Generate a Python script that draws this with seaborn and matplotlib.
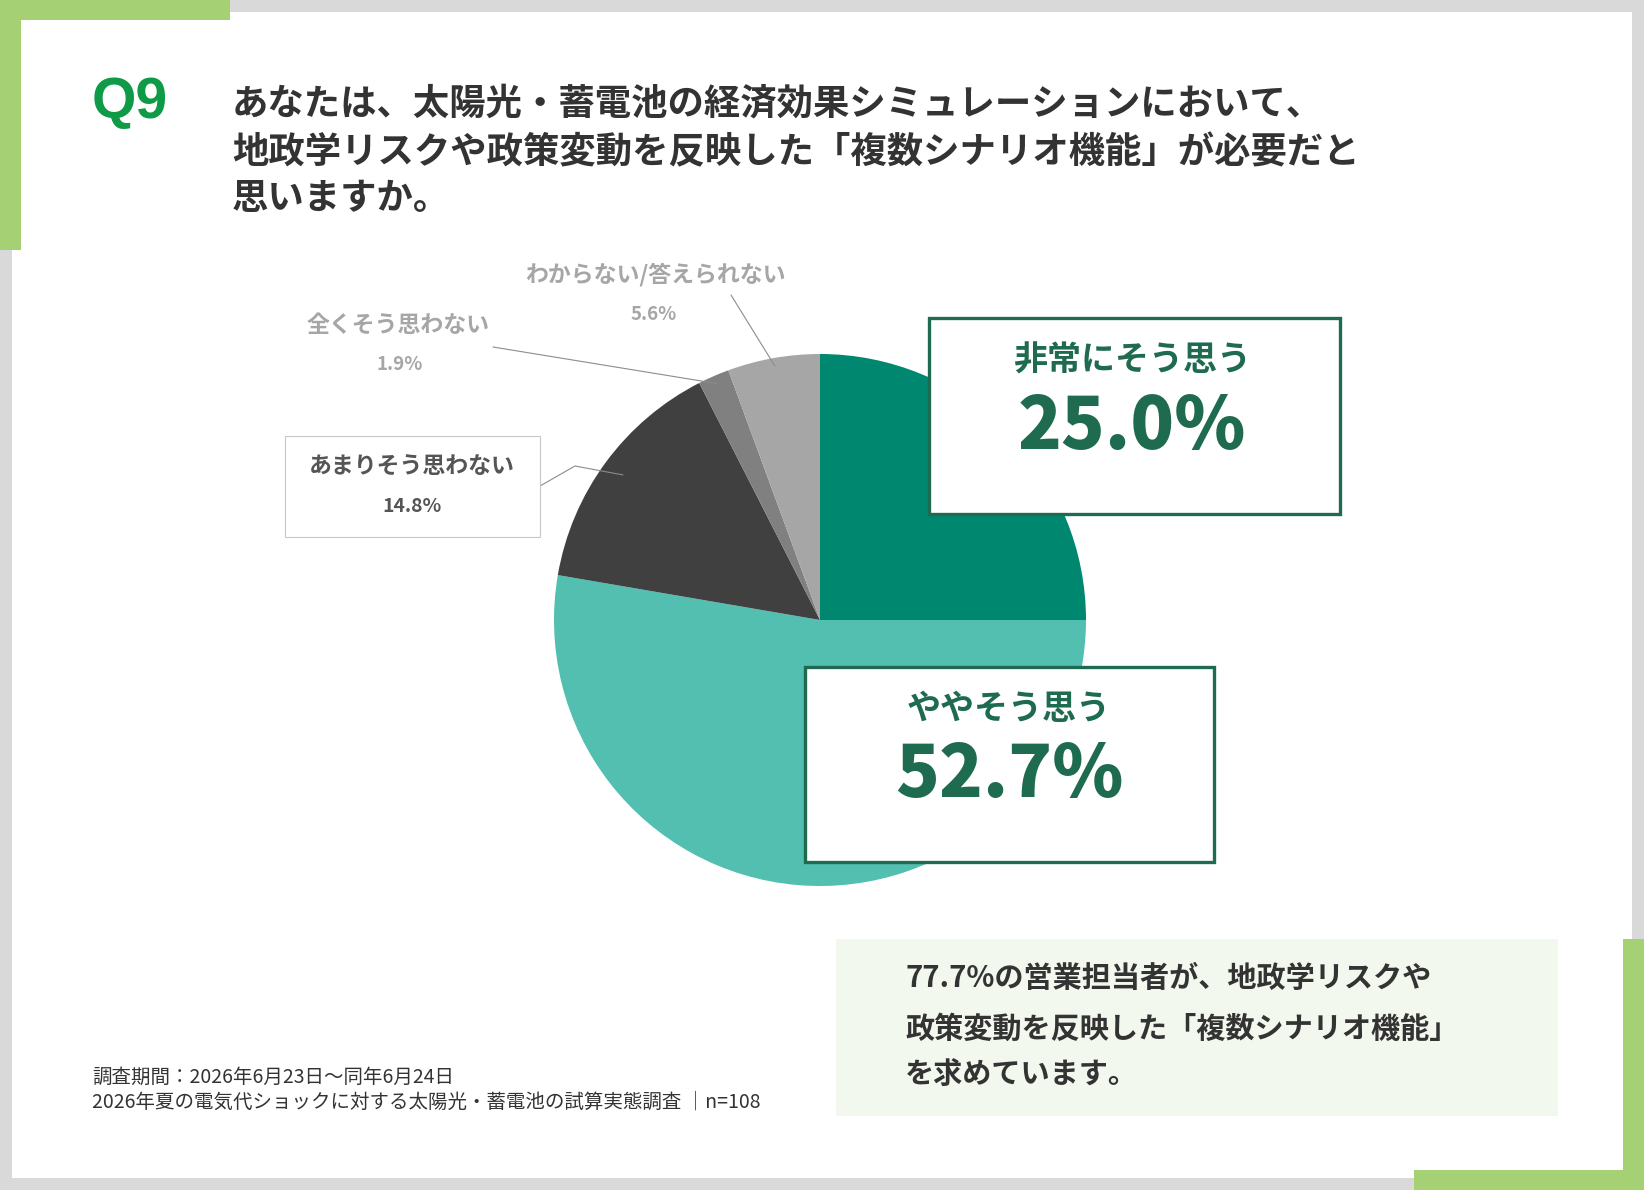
import numpy as np
import pandas as pd
import matplotlib
matplotlib.use("Agg")
import matplotlib.pyplot as plt
from matplotlib.patches import Rectangle
import seaborn as sns

# ---------------- data ----------------
categories = ["非常にそう思う", "ややそう思う", "あまりそう思わない", "全くそう思わない", "わからない/答えられない"]
values = [25.0, 52.7, 14.8, 1.9, 5.6]
slice_colors = ["#00876F", "#52BFB0", "#404040", "#808080", "#A6A6A6"]

title_q = "Q9"
title_lines = [
    "あなたは、太陽光・蓄電池の経済効果シミュレーションにおいて、",
    "地政学リスクや政策変動を反映した「複数シナリオ機能」が必要だと",
    "思いますか。",
]
summary_lines = [
    "77.7%の営業担当者が、地政学リスクや",
    "政策変動を反映した「複数シナリオ機能」",
    "を求めています。",
]
footer_lines = [
    "調査期間：2026年6月23日～同年6月24日",
    "2026年夏の電気代ショックに対する太陽光・蓄電池の試算実態調査 │n=108",
]

df = pd.DataFrame({"category": categories, "value": values, "color": slice_colors})

# ---------------- style ----------------
sns.set_theme(style="white")
plt.rcParams["font.family"] = ["Noto Sans CJK JP", "DejaVu Sans"]

W, H = 1644, 1190
fig = plt.figure(figsize=(W / 100, H / 100), dpi=100)
fig.patch.set_facecolor("white")

bg = fig.add_axes([0, 0, 1, 1])
bg.set_xlim(0, W)
bg.set_ylim(H, 0)
bg.axis("off")

GRAY = "#D9D9D9"
GREEN = "#A5D174"
# frame
for (x, y, w, h, c) in [
    (0, 0, W, 12, GRAY), (0, 0, 12, H, GRAY), (W - 12, 0, 12, H, GRAY), (0, H - 12, W, 12, GRAY),
    (0, 0, 230, 20, GREEN), (0, 0, 21, 250, GREEN),
    (W - 21, 939, 21, H - 939, GREEN), (1414, H - 20, W - 1414, 20, GREEN),
]:
    bg.add_patch(Rectangle((x, y), w, h, facecolor=c, edgecolor="none"))
bg.add_patch(Rectangle((836, 939), 722, 177, facecolor="#F3F8EE", edgecolor="none"))

# ---------------- pie ----------------
cx, cy, r = 820, 620, 266
pax = fig.add_axes([(cx - r) / W, 1 - (cy + r) / H, 2 * r / W, 2 * r / H])
wedges, _ = pax.pie(df["value"], colors=df["color"], startangle=90, counterclock=False,
                    wedgeprops=dict(linewidth=0))
pax.set_xlim(-1, 1)
pax.set_ylim(-1, 1)
pax.axis("off")

fg = fig.add_axes([0, 0, 1, 1])
fg.set_xlim(0, W)
fg.set_ylim(H, 0)
fg.axis("off")
fg.patch.set_alpha(0)

def wedge_point(i, rad):
    w = wedges[i]
    th = np.deg2rad((w.theta1 + w.theta2) / 2)
    disp = pax.transData.transform((rad * np.cos(th), rad * np.sin(th)))
    return fg.transData.inverted().transform(disp)

# ---------------- title ----------------
fg.text(92, 103, title_q, fontsize=41, fontweight="bold", color="#0E9A47",
        family=["Liberation Sans", "DejaVu Sans"], va="center", ha="left")
for i, (line, yy) in enumerate(zip(title_lines, [104, 153, 199])):
    fg.text(232, yy, line, fontsize=26.2, fontweight="bold", color="#333333", va="center", ha="left")

# ---------------- big boxes ----------------
DG = "#1E6B4F"
BIGFONT = ["Noto Sans CJK JP", "DejaVu Sans"]
fg.add_patch(Rectangle((929, 318), 411, 196, facecolor="white", edgecolor=DG, linewidth=2.4, zorder=3))
fg.text(1132, 360, categories[0], fontsize=24.5, fontweight="bold", color=DG, ha="center", va="center", zorder=4)
fg.text(1132, 428, f"{values[0]:.1f}%", fontsize=52, fontweight="heavy", color=DG, ha="center", va="center",
        family=BIGFONT, zorder=4)

fg.add_patch(Rectangle((805, 667), 409, 195, facecolor="white", edgecolor=DG, linewidth=2.4, zorder=3))
fg.text(1009, 709, categories[1], fontsize=24.5, fontweight="bold", color=DG, ha="center", va="center", zorder=4)
fg.text(1009, 776, f"{values[1]:.1f}%", fontsize=52, fontweight="heavy", color=DG, ha="center", va="center",
        family=BIGFONT, zorder=4)

# ---------------- small labels ----------------
fg.add_patch(Rectangle((285, 436), 255, 101, facecolor="white", edgecolor="#C8C8C8", linewidth=0.8, zorder=3))
fg.text(412, 467, categories[2], fontsize=16.5, fontweight="bold", color="#555555", ha="center", va="center", zorder=4)
fg.text(412, 507, f"{values[2]:.1f}%", fontsize=14, fontweight="bold", color="#555555", ha="center", va="center", zorder=4)

LG = "#A6A6A6"
fg.text(398, 325, categories[3], fontsize=16.5, fontweight="bold", color=LG, ha="center", va="center")
fg.text(400, 365, f"{values[3]:.1f}%", fontsize=13.5, fontweight="bold", color=LG, ha="center", va="center")
fg.text(655, 275, categories[4], fontsize=16.5, fontweight="bold", color=LG, ha="center", va="center")
fg.text(654, 315, f"{values[4]:.1f}%", fontsize=13.5, fontweight="bold", color=LG, ha="center", va="center")

# leader lines
lc = "#8C8C8C"
p = wedge_point(2, 0.92)
fg.plot([540, 575, p[0]], [486, 466, p[1]], color=lc, linewidth=0.8, zorder=2)
p = wedge_point(3, 0.97)
fg.plot([493, p[0]], [347, p[1]], color=lc, linewidth=0.8, zorder=2)
p = wedge_point(4, 0.97)
fg.plot([731, p[0]], [295, p[1]], color=lc, linewidth=0.8, zorder=2)

# ---------------- summary ----------------
for line, yy in zip(summary_lines, [978, 1029, 1075]):
    fg.text(905, yy, line, fontsize=21, fontweight="bold", color="#333333", ha="left", va="center")

# ---------------- footer ----------------
for line, yy in zip(footer_lines, [1077, 1102]):
    fg.text(92, yy, line, fontsize=14, color="#333333", ha="left", va="center")

fig.savefig("out.png", dpi=100, facecolor="white")
